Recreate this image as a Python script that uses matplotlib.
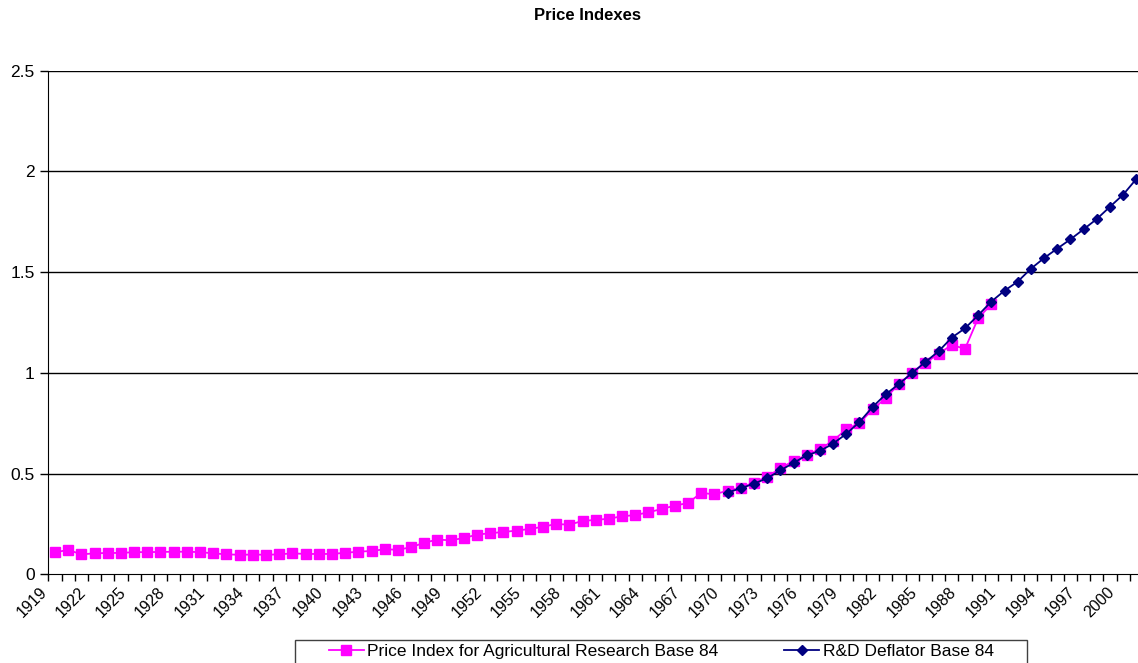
import numpy as np
import matplotlib
matplotlib.use('Agg')
import matplotlib.pyplot as plt
import matplotlib.transforms as mtransforms
from matplotlib.patches import Rectangle

plt.rcParams['font.family'] = ['Liberation Sans', 'DejaVu Sans']

# Price Index for Agricultural Research (base 1984), 1919-1990
ag_years = list(range(1919, 1991))
ag_index = [0.109, 0.121, 0.099, 0.104, 0.106, 0.106, 0.110, 0.110, 0.111, 0.112,
            0.112, 0.110, 0.104, 0.099, 0.097, 0.098, 0.097, 0.099, 0.104, 0.101,
            0.101, 0.101, 0.107, 0.112, 0.116, 0.124, 0.122, 0.134, 0.157, 0.172,
            0.169, 0.180, 0.197, 0.204, 0.210, 0.217, 0.225, 0.236, 0.250, 0.246,
            0.265, 0.270, 0.276, 0.288, 0.294, 0.308, 0.324, 0.341, 0.354, 0.404,
            0.397, 0.415, 0.430, 0.455, 0.485, 0.526, 0.563, 0.592, 0.622, 0.663,
            0.720, 0.750, 0.819, 0.875, 0.946, 1.000, 1.050, 1.094, 1.139, 1.119,
            1.271, 1.341]

# R&D deflator (base 1984), 1970-2001
rd_years = list(range(1970, 2002))
rd_deflator = [0.406, 0.427, 0.450, 0.477, 0.516, 0.553, 0.591, 0.612, 0.649, 0.697,
               0.756, 0.831, 0.894, 0.945, 1.000, 1.054, 1.107, 1.175, 1.221, 1.286,
               1.354, 1.408, 1.453, 1.517, 1.570, 1.617, 1.663, 1.713, 1.764, 1.825,
               1.885, 1.963]

all_years = list(range(1919, 2002))
label_years = all_years[::3]
y_ticks = [0, 0.5, 1, 1.5, 2, 2.5]
y_labels = ['0', '0.5', '1', '1.5', '2', '2.5']

W, H = 1138, 663
fig = plt.figure(figsize=(W / 100, H / 100), dpi=100)
# plot area runs a little past the right edge of the picture (cropped chart)
x0, x1, y0, y1 = 48.4, 1143.0, 574.3, 70.7
ax = fig.add_axes([x0 / W, 1 - y0 / H, (x1 - x0) / W, (y0 - y1) / H])

ax.plot(ag_years, ag_index, color='#FF00FF', lw=1.3, marker='s', ms=6.5,
        mec='#FF00FF', mfc='#FF00FF', label='Price Index for Agricultural Research Base 84', zorder=3)
ax.plot(rd_years, rd_deflator, color='#000080', lw=1.3, marker='D', ms=5.5,
        mec='#000080', mfc='#000080', label='R&D Deflator Base 84', zorder=4)

ax.set_xlim(all_years[0] - 0.5, all_years[-1] + 0.5)
ax.set_ylim(0, 2.5)

for y in y_ticks[1:]:
    ax.axhline(y, color='black', lw=1.0, zorder=1)

ax.spines['top'].set_visible(False)
ax.spines['right'].set_visible(False)
ax.spines['left'].set_color('black')
ax.spines['bottom'].set_color('black')

ax.set_yticks(y_ticks)
ax.set_yticklabels(y_labels, fontsize=12.5)
ax.tick_params(axis='y', direction='out', length=6, width=1, pad=4)

ax.set_xticks(label_years)
ax.set_xticklabels([str(y) for y in label_years], fontsize=11.5, rotation=45,
                   ha='right', va='top', rotation_mode='anchor')
ax.set_xticks(np.arange(all_years[0] - 0.5, all_years[-1] + 1), minor=True)
ax.tick_params(axis='x', which='major', length=0, pad=8)
ax.tick_params(axis='x', which='minor', direction='out', length=5, width=1)
offset = mtransforms.ScaledTranslation(-16 / 100, 1 / 100, fig.dpi_scale_trans)
for lbl in ax.get_xticklabels():
    lbl.set_transform(lbl.get_transform() + offset)

fig.text(588 / W, 1 - 16 / H, 'Price Indexes', ha='center', va='center',
         fontsize=12, fontweight='bold')

# legend box at the bottom, partly cut off like the original
fig.patches.append(Rectangle((295 / W, -0.05), (1027 - 295) / W, 0.05 + (663 - 640) / H,
                             transform=fig.transFigure, fill=False, edgecolor='#404040', lw=1))
leg = fig.legend(loc='center left', bbox_to_anchor=(329 / W, 1 - 651 / H), ncol=2,
                 frameon=False, fontsize=12.5, handlelength=2.0, handletextpad=0.2,
                 columnspacing=3.8, borderpad=0, borderaxespad=0)

fig.savefig('out.png', dpi=100)
